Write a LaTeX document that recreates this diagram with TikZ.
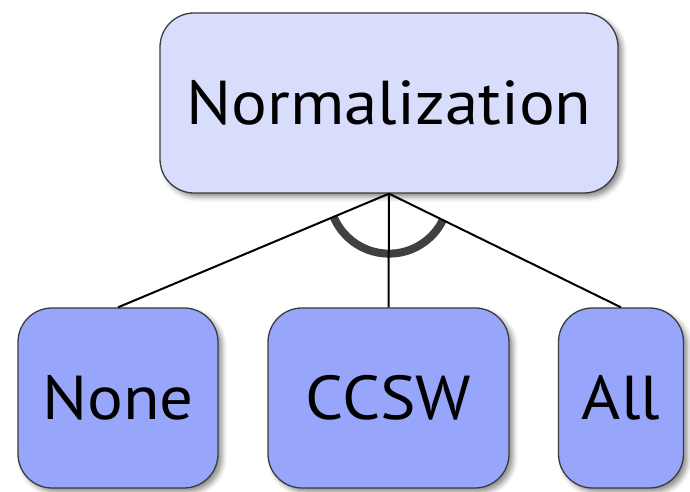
\documentclass[tikz,border=0pt]{standalone}
\usepackage{fontspec}
\setmainfont{PT Sans}[FakeStretch=1.08]
\usetikzlibrary{shadows.blur}
\definecolor{parentfill}{RGB}{217,221,252}
\definecolor{childfill}{RGB}{151,166,251}
\definecolor{framegray}{RGB}{60,60,60}
\definecolor{arcgray}{RGB}{64,64,64}
\begin{document}
\begin{tikzpicture}[x=1pt,y=1pt,
  feature/.style={draw=framegray, line width=1.3pt, rounded corners=34pt,
    inner sep=0pt, minimum height=180pt, font=\fontsize{62}{70}\selectfont,
    blur shadow={shadow xshift=4pt, shadow yshift=-4pt,
      shadow blur radius=5pt, shadow opacity=45}},
  parentbox/.style={feature, fill=parentfill},
  childbox/.style={feature, fill=childfill},
  edge/.style={line width=2pt, black},
  altarc/.style={line width=8pt, arcgray}]
  \useasboundingbox (0,0) rectangle (690,492);

  % root feature and its three alternatives
  \node[parentbox, minimum width=458pt] (norm) at (389,389) {Normalization};
  \node[childbox, minimum width=200pt] (none) at (118,94) {None};
  \node[childbox, minimum width=241pt] (ccsw) at (388.5,94) {CCSW};
  \node[childbox, minimum width=125pt] (all) at (621,94) {All};

  % alternative-group arc under the root
  \draw[altarc] (norm.south) ++(-156.5:60pt)
    arc[start angle=-156.5, end angle=-26.5, radius=60pt];

  % connectors
  \draw[edge] (norm.south) -- (none.north);
  \draw[edge] (norm.south) -- (ccsw.north);
  \draw[edge] (norm.south) -- (all.north);
\end{tikzpicture}
\end{document}
